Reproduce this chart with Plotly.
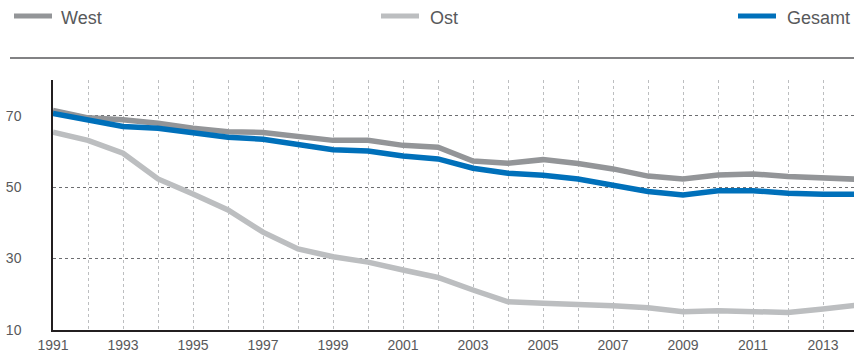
import plotly.graph_objects as go

# Share of employees covered by collective agreements (%), 1991-2014
years = list(range(1991, 2015))
west = [71.5, 69.4, 68.9, 67.9, 66.5, 65.5, 65.3, 64.2, 63.1, 63.1, 61.7, 61.2,
        57.3, 56.7, 57.7, 56.6, 55.1, 53.1, 52.3, 53.4, 53.7, 53.0, 52.4, 52.2]
ost = [65.4, 63.1, 59.5, 52.3, 48.1, 43.6, 37.4, 32.7, 30.5, 29.0, 26.8, 24.7,
       21.2, 17.9, 17.5, 17.3, 16.8, 16.2, 15.1, 15.4, 15.2, 14.9, 15.9, 17.0]
gesamt = [70.6, 68.7, 67.0, 66.5, 65.4, 64.0, 63.4, 62.1, 60.5, 60.1, 58.7, 57.9,
          55.3, 53.9, 53.3, 52.3, 50.7, 48.8, 47.8, 49.0, 49.0, 48.3, 48.0, 48.0]

series_names = ["West", "Ost", "Gesamt"]
series_colors = ["#939598", "#BCBEC0", "#0070BA"]

y_ticks = [10, 30, 50, 70]
x_tickvals = years[:-1]
x_ticktext = [str(y) if (y - 1991) % 2 == 0 else "" for y in x_tickvals]

W, H = 854, 357
L, R, T, B = 53, 0, 80, 27
plot_w = W - L - R
plot_h = H - T - B
px_per_year = 35.0

FONT = "Liberation Sans, Arial, Helvetica, sans-serif"
TEXT = "#58595B"

fig = go.Figure()
# Ost first, then West, Gesamt on top
for name, vals, col in [("Ost", ost, series_colors[1]),
                        ("West", west, series_colors[0]),
                        ("Gesamt", gesamt, series_colors[2])]:
    fig.add_trace(go.Scatter(x=years, y=vals, mode="lines", name=name,
                             line=dict(color=col, width=5.5),
                             showlegend=False, hoverinfo="x+y+name"))


def px_x(px):
    return (px - L) / plot_w


def px_y(py):
    return (H - B - py) / plot_h


shapes = []
annotations = []
# legend swatches + labels
legend_pos = [(14, 59), (381, 428), (738, 785)]
for (sx, tx), name, col in zip(legend_pos, series_names, series_colors):
    shapes.append(dict(type="line", xref="paper", yref="paper",
                       x0=px_x(sx), x1=px_x(sx + 38), y0=px_y(16), y1=px_y(16),
                       line=dict(color=col, width=5)))
    annotations.append(dict(xref="paper", yref="paper", x=px_x(tx), y=px_y(17.5),
                            text=name, showarrow=False, xanchor="left", yanchor="middle",
                            font=dict(family=FONT, size=18, color=TEXT)))
# separator rule under the legend
shapes.append(dict(type="line", xref="paper", yref="paper",
                   x0=px_x(10), x1=px_x(W), y0=px_y(58), y1=px_y(58),
                   line=dict(color="#58595B", width=1.5)))

fig.update_layout(
    width=W, height=H,
    margin=dict(l=L, r=R, t=T, b=B, pad=0),
    paper_bgcolor="white", plot_bgcolor="white",
    shapes=shapes, annotations=annotations,
    xaxis=dict(range=[1991, 1991 + plot_w / px_per_year],
               tickvals=x_tickvals, ticktext=x_ticktext,
               showgrid=True, gridcolor="#BCBEC0", griddash="dot", gridwidth=1,
               showline=True, linecolor="#231F20", linewidth=2,
               zeroline=False, ticks="", ticklabelstandoff=1,
               tickfont=dict(family=FONT, size=14, color=TEXT)),
    yaxis=dict(range=[10, 80], tickvals=y_ticks,
               showgrid=True, gridcolor="#6D6E71", griddash="dot", gridwidth=1,
               showline=True, linecolor="#231F20", linewidth=1.5,
               zeroline=False, ticks="", ticklabelstandoff=27,
               tickfont=dict(family=FONT, size=14, color=TEXT)),
)

fig.write_html("out.html")
